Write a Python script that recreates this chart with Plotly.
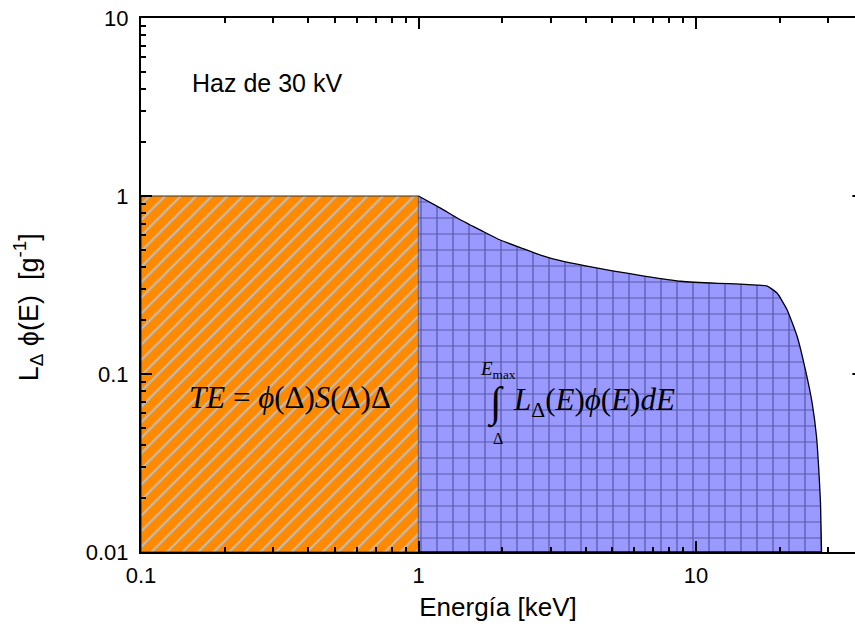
import numpy as np
import plotly.graph_objects as go

# Spectrum-weighted restricted stopping power L_Delta * phi(E) for a 30 kV beam
energy_kev = [1.0, 1.2, 1.42, 1.7, 1.97, 2.35, 2.75, 3.3, 4.0, 5.0, 6.5, 8.8,
              12.0, 14.47, 16.6, 18.06, 19.62, 21.31, 23.16, 24.80, 26.22,
              27.18, 27.70, 28.09, 28.33]
l_phi = [1.0, 0.855, 0.733, 0.635, 0.566, 0.51, 0.466, 0.43, 0.405, 0.38,
         0.355, 0.332, 0.323, 0.320, 0.316, 0.312, 0.284, 0.229, 0.162, 0.105,
         0.0684, 0.0444, 0.0289, 0.0189, 0.0100]

# Track-end term: phi(Delta) S(Delta) Delta, drawn over [E_MIN, DELTA]
DELTA = 1.0
TE_LEVEL = 1.0
E_MIN = 0.1

# Axis limits and ticks
X_MIN, X_MAX = 0.1, 37.4
Y_MIN, Y_MAX = 0.01, 10.0
x_ticks = [0.1, 1, 10]
x_ticktext = ["0.1", "1", "10"]
y_ticks = [0.01, 0.1, 1, 10]
y_ticktext = ["0.01", "0.1", "1", "10"]

x_minor = [d * 10.0 ** p for p in range(-1, 2) for d in range(2, 10)]
y_minor = [d * 10.0 ** p for p in range(-2, 1) for d in range(2, 10)]

SANS = "Liberation Sans, Arial, sans-serif"
SERIF = "Liberation Serif, Times New Roman, serif"

fig = go.Figure()

# Track-end rectangle (orange, hatched)
fig.add_trace(go.Scatter(
    x=[E_MIN, DELTA, DELTA, E_MIN, E_MIN],
    y=[Y_MIN, Y_MIN, TE_LEVEL, TE_LEVEL, Y_MIN],
    mode="lines",
    fill="toself",
    fillpattern=dict(shape="/", bgcolor="#FF8A00", fgcolor="#BDBDBD",
                     size=11, solidity=0.2, fillmode="replace"),
    line=dict(color="#333333", width=1.2),
    hoverinfo="skip",
    showlegend=False,
))

# Integral term: area under L_Delta * phi(E) from DELTA to E_max
poly_x = list(energy_kev) + [energy_kev[-1], energy_kev[0]]
poly_y = list(l_phi) + [Y_MIN, Y_MIN]
fig.add_trace(go.Scatter(
    x=poly_x,
    y=poly_y,
    mode="lines",
    fill="toself",
    fillpattern=dict(shape="+", bgcolor="#9999FF", fgcolor="rgba(35,35,90,0.55)",
                     size=16, solidity=0.15, fillmode="replace"),
    line=dict(color="black", width=1.3, shape="spline", smoothing=0.4),
    hoverinfo="skip",
    showlegend=False,
))

axis_common = dict(
    type="log",
    showgrid=False,
    zeroline=False,
    showline=True,
    linecolor="black",
    linewidth=2,
    ticks="inside",
    ticklen=11,
    tickwidth=2,
    tickcolor="black",
    tickfont=dict(family=SANS, size=22, color="black"),
    tickmode="array",
)

fig.update_xaxes(
    **axis_common,
    range=[np.log10(X_MIN), np.log10(X_MAX)],
    tickvals=x_ticks,
    ticktext=x_ticktext,
    mirror="ticks",
    minor=dict(tickmode="array", tickvals=x_minor, ticks="inside",
               ticklen=5, tickwidth=1.5, tickcolor="black", showgrid=False),
    title=dict(text="Energía [keV]", font=dict(family=SANS, size=26, color="black"),
               standoff=10),
    ticklabelstandoff=3,
)
fig.update_yaxes(
    **axis_common,
    range=[np.log10(Y_MIN), np.log10(Y_MAX)],
    tickvals=y_ticks,
    ticktext=y_ticktext,
    mirror=False,
    minor=dict(tickmode="array", tickvals=y_minor, ticks="inside",
               ticklen=5, tickwidth=1.5, tickcolor="black", showgrid=False),
    ticklabelstandoff=6,
)

annotations = [
    # y-axis title
    dict(text="L<sub>Δ</sub> ϕ(E)  [g<sup>-1</sup>]", textangle=-90,
         xref="paper", yref="paper", x=-0.157, y=0.458,
         xanchor="center", yanchor="middle", showarrow=False,
         font=dict(family=SANS, size=27, color="black")),
    # beam label
    dict(text="Haz de 30 kV", xref="paper", yref="paper", x=0.069, y=0.878,
         xanchor="left", yanchor="middle", showarrow=False,
         font=dict(family=SANS, size=25, color="black")),
    # track-end formula
    dict(text="<i>TE</i> = <i>ϕ</i>(Δ)<i>S</i>(Δ)Δ", xref="paper", yref="paper",
         x=0.209, y=0.29, xanchor="center", yanchor="middle", showarrow=False,
         font=dict(family=SERIF, size=31, color="black")),
    # integral formula
    dict(text="∫", xref="paper", yref="paper", x=0.497, y=0.278,
         xanchor="center", yanchor="middle", showarrow=False,
         font=dict(family=SERIF, size=42, color="black")),
    dict(text="<i>E</i><sub>max</sub>", xref="paper", yref="paper", x=0.500, y=0.34,
         xanchor="center", yanchor="middle", showarrow=False,
         font=dict(family=SERIF, size=19, color="black")),
    dict(text="Δ", xref="paper", yref="paper", x=0.500, y=0.212,
         xanchor="center", yanchor="middle", showarrow=False,
         font=dict(family=SERIF, size=16, color="black")),
    dict(text="<i>L</i><sub>Δ</sub>(<i>E</i>)<i>ϕ</i>(<i>E</i>)<i>dE</i>",
         xref="paper", yref="paper", x=0.518, y=0.281,
         xanchor="left", yanchor="middle", showarrow=False,
         font=dict(family=SERIF, size=31, color="black")),
]

# Mirrored right-axis ticks at the visible edge
shapes = [
    dict(type="line", xref="paper", yref="paper", x0=0.9963, x1=1.0, y0=v, y1=v,
         line=dict(color="black", width=2))
    for v in (1 / 3, 2 / 3)
]

fig.update_layout(
    width=855,
    height=637,
    margin=dict(l=141, r=0, t=18, b=85),
    paper_bgcolor="white",
    plot_bgcolor="white",
    annotations=annotations,
    shapes=shapes,
    showlegend=False,
)

fig.write_html("out.html")
